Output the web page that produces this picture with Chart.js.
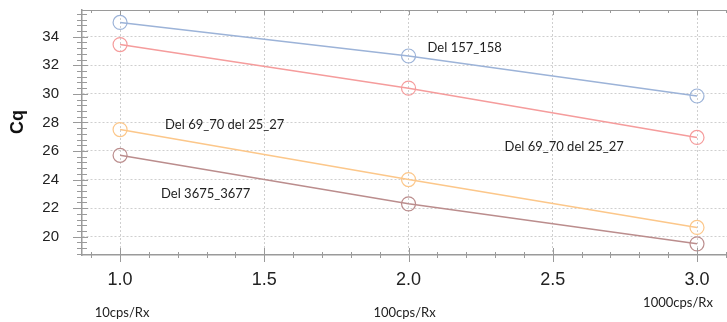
<!DOCTYPE html>
<html>
<head>
<meta charset="utf-8">
<script src="https://cdn.jsdelivr.net/npm/chart.js@4.4.1/dist/chart.umd.min.js"></script>
<style>
  html, body { margin: 0; padding: 0; background: #fff; }
  #wrap { width: 727px; height: 322px; position: relative; }
</style>
</head>
<body>
<div id="wrap"><canvas id="cqChart"></canvas></div>
<script>
const xValues = [1, 2, 3];
const categoryLabels = ['10cps/Rx', '100cps/Rx', '1000cps/Rx'];
const seriesNames = ['Del 157_158', 'Del 69_70 del 25_27', 'Del 69_70 del 25_27', 'Del 3675_3677'];
const blueCq = [35.0, 32.65, 29.85];
const redCq = [33.45, 30.4, 26.95];
const orangeCq = [27.5, 24.0, 20.65];
const brownCq = [25.7, 22.3, 19.5];
const xTicks = [1.0, 1.5, 2.0, 2.5, 3.0];
const yTicks = [20, 22, 24, 26, 28, 30, 32, 34];

const axisColor = '#9a9a9a';

function series(values, color) {
  return {
    data: values.map((v, i) => ({ x: xValues[i], y: v })),
    borderColor: color,
    backgroundColor: 'transparent',
    borderWidth: 1.5,
    pointRadius: 7,
    pointHoverRadius: 7,
    pointBorderWidth: 1.2,
    pointBackgroundColor: 'transparent',
    tension: 0
  };
}

// text placements (data coords for series notes)
const notes = [
  { text: seriesNames[0], x: 2.066, y: 33.21 },
  { text: seriesNames[1], x: 1.156, y: 27.83 },
  { text: seriesNames[2], x: 2.333, y: 26.29 },
  { text: seriesNames[3], x: 1.142, y: 23.0 }
];
const catOffsets = [[2, 313], [-4, 313], [-19, 303]];

const decorPlugin = {
  id: 'decor',
  afterDraw(chart) {
    const { ctx, chartArea: a, scales: { x, y } } = chart;
    ctx.save();
    ctx.strokeStyle = axisColor;
    ctx.lineWidth = 1;
    const seg = (x1, y1, x2, y2) => { ctx.beginPath(); ctx.moveTo(x1, y1); ctx.lineTo(x2, y2); ctx.stroke(); };

    seg(a.left, a.top + 0.5, a.right, a.top + 0.5);

    for (let i = 9; i <= 31; i++) {
      const px = Math.round(x.getPixelForValue(i / 10)) + 0.5;
      const major = i % 5 === 0;
      const len = major ? 7 : 3;
      seg(px, a.bottom - len, px, a.bottom + len);
      seg(px, a.top, px, a.top + (major ? 5 : 3));
    }
    for (let i = 47; i <= 89; i++) {
      const py = Math.round(y.getPixelForValue(i * 0.4)) + 0.5;
      const major = i % 5 === 0;
      seg(a.left - (major ? 9 : 5), py, a.left + (major ? 6 : 5), py);
    }

    ctx.fillStyle = '#222';
    ctx.font = '13px Lato';
    ctx.textBaseline = 'middle';
    ctx.textAlign = 'left';
    notes.forEach(n => ctx.fillText(n.text, x.getPixelForValue(n.x), y.getPixelForValue(n.y)));

    ctx.textAlign = 'center';
    categoryLabels.forEach((t, i) => {
      ctx.fillText(t, x.getPixelForValue(xValues[i]) + catOffsets[i][0], catOffsets[i][1]);
    });

    ctx.translate(18, 122);
    ctx.rotate(-Math.PI / 2);
    ctx.font = 'bold 18px "Liberation Sans"';
    ctx.fillStyle = '#111';
    ctx.fillText('Cq', 0, 0);
    ctx.restore();
  }
};

new Chart(document.getElementById('cqChart'), {
  type: 'line',
  data: {
    datasets: [
      series(blueCq, '#9cb3d8'),
      series(redCq, '#f59c9c'),
      series(orangeCq, '#fcc78a'),
      series(brownCq, '#bb8d8d')
    ]
  },
  options: {
    responsive: true,
    maintainAspectRatio: false,
    animation: false,
    layout: { autoPadding: false, padding: { top: 10, right: 0, left: 0, bottom: 0 } },
    plugins: { legend: { display: false }, tooltip: { enabled: false } },
    scales: {
      x: {
        type: 'linear',
        min: 0.868,
        max: 3.104,
        afterBuildTicks: s => { s.ticks = xTicks.map(v => ({ value: v })); },
        afterFit: s => { s.height = 67; s.paddingLeft = 0; s.paddingRight = 0; },
        ticks: {
          padding: 14,
          color: '#222',
          font: { family: 'Liberation Sans', size: 18 },
          callback: v => Number(v).toFixed(1)
        },
        grid: { color: '#cfcfcf', drawTicks: false, lineWidth: 1 },
        border: { color: axisColor, width: 1.5, dash: [2, 2] }
      },
      y: {
        type: 'linear',
        min: 18.72,
        max: 35.87,
        afterBuildTicks: s => { s.ticks = yTicks.map(v => ({ value: v })); },
        afterFit: s => { s.width = 82; s.paddingTop = 0; s.paddingBottom = 0; },
        ticks: {
          padding: 23,
          color: '#222',
          font: { family: 'Liberation Sans', size: 15 }
        },
        grid: { color: '#cfcfcf', drawTicks: false, lineWidth: 1 },
        border: { color: axisColor, width: 1.5, dash: [2, 2] }
      }
    }
  },
  plugins: [decorPlugin]
});
</script>
</body>
</html>
